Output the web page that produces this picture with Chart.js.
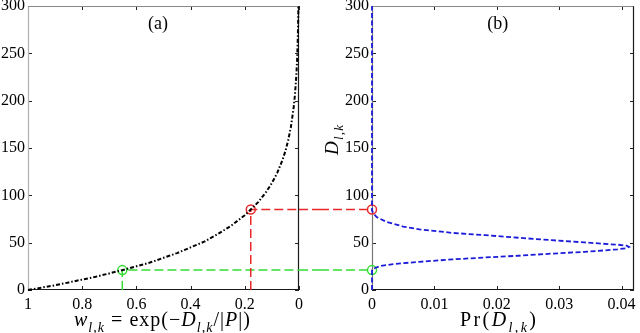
<!DOCTYPE html>
<html>
<head>
<meta charset="utf-8">
<script src="https://cdn.jsdelivr.net/npm/chart.js@4.4.1/dist/chart.umd.min.js"></script>
<style>
  html, body { margin: 0; padding: 0; background: #fff; }
  #wrap { position: relative; width: 640px; height: 333px; }
  canvas { position: absolute; top: 0; }
  #left-chart { left: 0; }
  #right-chart { left: 320px; }
</style>
</head>
<body>
<div id="wrap">
  <canvas id="left-chart" width="320" height="333"></canvas>
  <canvas id="right-chart" width="320" height="333"></canvas>
</div>
<script>
// (a) weight vs distance
const weightW = [1, 0.95, 0.9, 0.85, 0.8, 0.75, 0.7, 0.652, 0.6, 0.55, 0.5, 0.45, 0.4, 0.35, 0.3, 0.25, 0.2, 0.178, 0.15, 0.12, 0.1, 0.08, 0.06, 0.05, 0.04, 0.03, 0.02, 0.015, 0.01, 0.007, 0.005, 0.0035, 0.0025, 0.002];
const weightD = [0, 2.5, 5, 8, 11, 14, 17.5, 21, 25, 29, 34, 39, 45, 51, 59, 68, 79, 85, 93, 104, 113, 124, 138, 147, 158, 172, 192, 206, 226, 243, 260, 277, 293, 300];

// (b) distribution of distance
const probPr = [0, 0, 0.0004, 0.0013, 0.0034, 0.0076, 0.0129, 0.0182, 0.0235, 0.0288, 0.034, 0.0372, 0.0394, 0.0408, 0.0412, 0.0408, 0.0395, 0.0383, 0.034, 0.0288, 0.0235, 0.0182, 0.0129, 0.0103, 0.0076, 0.005, 0.0023, 0.00075, 0.0002, 0, 0];
const probD = [0, 21, 23, 25.3, 27.4, 29.8, 32.3, 34.4, 36.2, 38.4, 40.3, 41.8, 43, 44.2, 45.5, 46.8, 47.8, 48.3, 50.3, 52.6, 55.2, 57.9, 60.3, 62.2, 64, 67, 72, 77, 81, 84, 300];

// the two marked points (red, green)
const markW = [0.178, 0.652];
const markD = [85, 21];
const markColors = ['#e8282b', '#33dd33'];

const yTicks = [0, 50, 100, 150, 200, 250, 300];

Chart.defaults.font.family = '"Liberation Serif", "Times New Roman", serif';
Chart.defaults.font.size = 16;
Chart.defaults.color = '#000';

const zip = (xs, ys) => xs.map((x, i) => ({ x: x, y: ys[i] }));
const fmt = v => String(Math.round(v * 1000) / 1000);

// draws mixed italic / subscript text, letter-spaced out to a width
function richText(ctx, parts, cx, cy, size, width, rot) {
  const font = p => (p[1] ? 'italic ' : '') + (p[1] === 's' ? Math.round(size * 0.7) : size) + 'px "Liberation Serif"';
  let w = 0, n = 0;
  parts.forEach(p => { ctx.font = font(p); w += ctx.measureText(p[0]).width; n += p[0].length; });
  const sp = width ? Math.max(0, (width - w) / (n - 1)) : 0;
  const total = w + sp * (n - 1);
  ctx.save();
  ctx.translate(cx, cy);
  if (rot) ctx.rotate(rot);
  ctx.fillStyle = '#000';
  ctx.textAlign = 'left';
  ctx.textBaseline = 'alphabetic';
  let x = -total / 2;
  parts.forEach(p => {
    ctx.font = font(p);
    for (const ch of p[0]) {
      ctx.fillText(ch, x, p[1] === 's' ? size * 0.28 : 0);
      x += ctx.measureText(ch).width + sp;
    }
  });
  ctx.restore();
}

// matlab style box with inward ticks, panel label, titles
const framePlugin = {
  id: 'frame',
  beforeDatasetsDraw(chart, args, opts) {
    const { ctx, chartArea: a, scales: { x, y } } = chart;
    ctx.save();
    ctx.lineWidth = 1;
    ctx.strokeStyle = '#222';
    ctx.beginPath();
    x.ticks.forEach(t => {
      const px = Math.round(x.getPixelForValue(t.value)) + 0.5;
      ctx.moveTo(px, a.bottom); ctx.lineTo(px, a.bottom - 4);
      ctx.moveTo(px, a.top); ctx.lineTo(px, a.top + 4);
    });
    y.ticks.forEach(t => {
      const py = Math.round(y.getPixelForValue(t.value)) + 0.5;
      ctx.moveTo(a.left, py); ctx.lineTo(a.left + 4, py);
      ctx.moveTo(a.right, py); ctx.lineTo(a.right - 4, py);
    });
    ctx.stroke();
    const L = Math.round(a.left) + 0.5, R = Math.round(a.right) - 0.5;
    const T = Math.round(a.top) + 0.5, B = Math.round(a.bottom) - 0.5;
    ctx.lineWidth = 1.2;
    ctx.strokeStyle = '#8a8a8a';
    ctx.beginPath(); ctx.moveTo(L, T); ctx.lineTo(R, T); ctx.stroke();
    ctx.strokeStyle = opts.leftColor;
    ctx.beginPath(); ctx.moveTo(L, T); ctx.lineTo(L, B); ctx.stroke();
    ctx.strokeStyle = '#1a1a1a';
    ctx.beginPath(); ctx.moveTo(L, B); ctx.lineTo(R, B); ctx.lineTo(R, T); ctx.stroke();
    ctx.restore();
  },
  afterDraw(chart, args, opts) {
    const { ctx, chartArea: a } = chart;
    ctx.save();
    ctx.fillStyle = '#000';
    ctx.font = '18px "Liberation Serif"';
    ctx.textAlign = 'center';
    ctx.textBaseline = 'middle';
    ctx.fillText(opts.label, a.left + a.width * 0.48, a.top + 18);
    ctx.restore();
    opts.titles.forEach(t => richText(ctx, t.parts, t.x, t.y, t.size, t.width, t.rot));
  }
};

// dashed links that cross the gap between the two panels
const gapPlugin = {
  id: 'gap',
  afterDatasetsDraw(chart, args, opts) {
    const { ctx, chartArea: a, scales: { y } } = chart;
    ctx.save();
    ctx.lineWidth = 1.5;
    ctx.setLineDash([9, 4]);
    markD.forEach((d, i) => {
      const py = y.getPixelForValue(d);
      ctx.strokeStyle = markColors[i];
      ctx.beginPath();
      if (opts.side === 'right') { ctx.moveTo(a.right, py); ctx.lineTo(chart.width, py); }
      else { ctx.moveTo(0, py); ctx.lineTo(a.left - 4, py); }
      ctx.stroke();
    });
    ctx.restore();
  }
};

function yScale(width) {
  return {
    min: 0, max: 300,
    grid: { display: false, drawTicks: false },
    border: { display: false },
    ticks: { stepSize: 50, padding: 3, callback: fmt },
    afterBuildTicks: s => { s.ticks = yTicks.map(v => ({ value: v })); },
    afterFit: s => { s.width = width; s.paddingTop = 0; s.paddingBottom = 0; }
  };
}

function xScale(extra) {
  return Object.assign({
    type: 'linear',
    grid: { display: false, drawTicks: false },
    border: { display: false },
    afterFit: s => { s.height = 43; s.paddingLeft = 0; s.paddingRight = 0; }
  }, extra);
}

const linkSets = markW.map((w, i) => ({
  data: [{ x: w, y: 0 }, { x: w, y: markD[i] }, { x: 0, y: markD[i] }],
  showLine: true,
  borderColor: markColors[i],
  borderWidth: 1.5,
  borderDash: [9, 4],
  pointRadius: 0,
  clip: false
}));

new Chart(document.getElementById('left-chart'), {
  type: 'scatter',
  data: {
    datasets: [{
      data: zip(weightW, weightD),
      showLine: true,
      borderColor: '#000',
      borderWidth: 2,
      borderDash: [4, 2, 1.5, 2],
      pointRadius: 0,
      tension: 0,
      clip: false
    }].concat(linkSets, [{
      data: zip(markW, markD),
      showLine: false,
      pointRadius: 4.5,
      pointBorderWidth: 1.5,
      pointBackgroundColor: 'rgba(0,0,0,0)',
      pointBorderColor: markColors,
      clip: false
    }])
  },
  options: {
    responsive: false,
    animation: false,
    layout: { padding: { left: 0, right: 21, top: 5, bottom: 0 } },
    plugins: {
      legend: { display: false },
      tooltip: { enabled: false },
      frame: {
        label: '(a)',
        leftColor: '#b0b0b0',
        titles: [{
          parts: [['w', 'i'], ['l,k', 's'], [' = exp(\u2212', ''], ['D', 'i'], ['l,k', 's'], ['/|', ''], ['P', 'i'], ['|)', '']],
          x: 162, y: 326, size: 20, width: 176
        }]
      },
      gap: { side: 'right' }
    },
    scales: {
      x: xScale({ min: 0, max: 1, reverse: true, ticks: { stepSize: 0.2, padding: 5, callback: fmt } }),
      y: yScale(28)
    }
  },
  plugins: [framePlugin, gapPlugin]
});

new Chart(document.getElementById('right-chart'), {
  type: 'scatter',
  data: {
    datasets: [{
      data: zip(probPr, probD),
      showLine: true,
      borderColor: '#1c1cd8',
      borderWidth: 1.8,
      borderDash: [5, 2.5],
      pointRadius: 0,
      tension: 0,
      clip: false
    }, {
      data: markD.map(d => ({ x: 0, y: d })),
      showLine: false,
      pointRadius: 4.5,
      pointBorderWidth: 1.5,
      pointBackgroundColor: 'rgba(0,0,0,0)',
      pointBorderColor: markColors,
      clip: false
    }]
  },
  options: {
    responsive: false,
    animation: false,
    layout: { padding: { left: 0, right: 4, top: 5, bottom: 0 } },
    plugins: {
      legend: { display: false },
      tooltip: { enabled: false },
      frame: {
        label: '(b)',
        leftColor: '#777',
        titles: [
          { parts: [['Pr(', ''], ['D', 'i'], ['l,k', 's'], [')', '']], x: 178, y: 326, size: 20, width: 76 },
          { parts: [['D', 'i'], ['l,k', 's']], x: 18, y: 140, size: 19, width: 30, rot: -Math.PI / 2 }
        ]
      },
      gap: { side: 'left' }
    },
    scales: {
      x: xScale({ min: 0, max: 0.042, ticks: { stepSize: 0.01, padding: 5, includeBounds: false, callback: fmt } }),
      y: yScale(52)
    }
  },
  plugins: [framePlugin, gapPlugin]
});
</script>
</body>
</html>
